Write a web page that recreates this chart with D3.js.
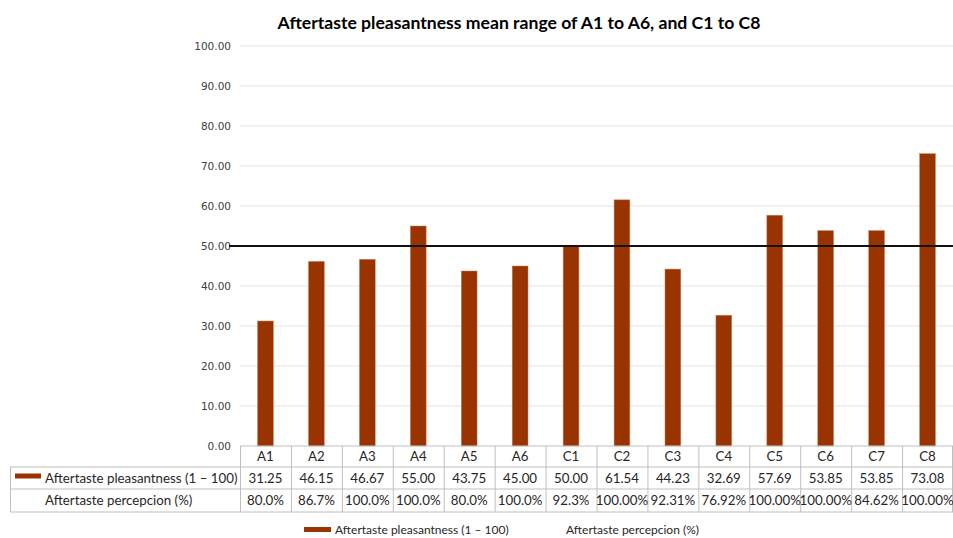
<!DOCTYPE html>
<html>
<head>
<meta charset="utf-8">
<script src="https://cdn.jsdelivr.net/npm/d3@7/dist/d3.min.js"></script>
<style>
  html, body { margin: 0; padding: 0; background: #ffffff; }
  svg { display: block; }
</style>
</head>
<body>
<svg id="chart" width="953" height="538"></svg>
<script>
// Samples and their values
const categories = ["A1", "A2", "A3", "A4", "A5", "A6", "C1", "C2", "C3", "C4", "C5", "C6", "C7", "C8"];
const pleasantness = [31.25, 46.15, 46.67, 55.00, 43.75, 45.00, 50.00, 61.54, 44.23, 32.69, 57.69, 53.85, 53.85, 73.08];
const perception = ["80.0%", "86.7%", "100.0%", "100.0%", "80.0%", "100.0%", "92.3%", "100.00%", "92.31%", "76.92%", "100.00%", "100.00%", "84.62%", "100.00%"];
const yTicks = [0, 10, 20, 30, 40, 50, 60, 70, 80, 90, 100];
const referenceValue = 50;
const seriesNames = ["Aftertaste pleasantness (1 – 100)", "Aftertaste percepcion (%)"];
const titleText = "Aftertaste pleasantness mean range of A1 to A6, and C1 to C8";

const barColor = "#993300";
const textColor = "#262626";
const gridColor = "#e3e3e3";
const tableColor = "#bfbfbf";
const tableFont = "Lato, 'Open Sans', sans-serif";

const svg = d3.select("#chart");

const plot = { left: 240, right: 953, top: 46, bottom: 446 };
const tableLeft = 10;
const rowBounds = [446, 467, 489, 512];

const x = d3.scaleBand().domain(categories).range([plot.left, plot.right]).paddingInner(0.69).paddingOuter(0.345);
const xCol = d3.scaleBand().domain(categories).range([plot.left, plot.right]);
const y = d3.scaleLinear().domain([0, 100]).range([plot.bottom, plot.top]);

// Title
svg.append("text")
  .attr("x", 519).attr("y", 29)
  .attr("text-anchor", "middle")
  .attr("font-family", "Lato, 'Open Sans', sans-serif")
  .attr("font-weight", "bold")
  .attr("font-size", 17.6)
  .attr("fill", "#000")
  .text(titleText);

// Horizontal gridlines
svg.append("g").selectAll("line")
  .data(yTicks.filter(d => d > 0))
  .join("line")
  .attr("x1", plot.left).attr("x2", plot.right)
  .attr("y1", d => y(d)).attr("y2", d => y(d))
  .attr("stroke", gridColor).attr("stroke-width", 1);

// Y axis labels
const yAxis = d3.axisLeft(y).tickValues(yTicks).tickFormat(d3.format(".2f")).tickSize(0).tickPadding(9);
const yg = svg.append("g").attr("transform", `translate(${plot.left},0)`).call(yAxis);
yg.select(".domain").remove();
yg.selectAll("text")
  .attr("font-family", "'DejaVu Sans', Verdana, sans-serif")
  .attr("font-size", 10.5)
  .attr("fill", "#404040");

// Bars
svg.append("g").selectAll("rect")
  .data(categories.map((c, i) => ({ c, v: pleasantness[i] })))
  .join("rect")
  .attr("x", d => x(d.c))
  .attr("width", x.bandwidth())
  .attr("y", d => y(d.v))
  .attr("height", d => y(0) - y(d.v))
  .attr("fill", barColor)
  .attr("stroke", "#c9825f")
  .attr("stroke-width", 0.5);

// Reference line at 50
svg.append("line")
  .attr("x1", 229).attr("x2", plot.right)
  .attr("y1", y(referenceValue)).attr("y2", y(referenceValue))
  .attr("stroke", "#111").attr("stroke-width", 1.8);

// Data table
const table = svg.append("g");
// horizontal rules
table.append("line")
  .attr("x1", plot.left).attr("x2", plot.right)
  .attr("y1", rowBounds[0]).attr("y2", rowBounds[0])
  .attr("stroke", tableColor);
rowBounds.slice(1).forEach(yy => {
  table.append("line")
    .attr("x1", tableLeft).attr("x2", plot.right)
    .attr("y1", yy).attr("y2", yy)
    .attr("stroke", tableColor);
});
// left edge of the table
table.append("line")
  .attr("x1", tableLeft + 0.5).attr("x2", tableLeft + 0.5)
  .attr("y1", rowBounds[1]).attr("y2", rowBounds[3])
  .attr("stroke", tableColor);
// column rules
categories.forEach(c => {
  table.append("line")
    .attr("x1", xCol(c) + 0.5).attr("x2", xCol(c) + 0.5)
    .attr("y1", rowBounds[0]).attr("y2", rowBounds[3])
    .attr("stroke", tableColor);
});
table.append("line")
  .attr("x1", plot.right - 0.5).attr("x2", plot.right - 0.5)
  .attr("y1", rowBounds[0]).attr("y2", rowBounds[3])
  .attr("stroke", tableColor);

const rowMid = i => (rowBounds[i] + rowBounds[i + 1]) / 2 + 4.5;

// category row
table.selectAll("text.cat")
  .data(categories)
  .join("text")
  .attr("class", "cat")
  .attr("x", d => xCol(d) + xCol.bandwidth() / 2)
  .attr("y", rowMid(0))
  .attr("text-anchor", "middle")
  .attr("font-family", tableFont).attr("font-size", 13.3)
  .attr("fill", textColor)
  .text(d => d);

// pleasantness row
table.selectAll("text.val")
  .data(categories.map((c, i) => ({ c, v: pleasantness[i] })))
  .join("text")
  .attr("class", "val")
  .attr("x", d => xCol(d.c) + xCol.bandwidth() / 2)
  .attr("y", rowMid(1))
  .attr("text-anchor", "middle")
  .attr("font-family", tableFont).attr("font-size", 13.3)
  .attr("fill", textColor)
  .text(d => d3.format(".2f")(d.v));

// perception row
table.selectAll("text.pct")
  .data(categories.map((c, i) => ({ c, v: perception[i] })))
  .join("text")
  .attr("class", "pct")
  .attr("x", d => xCol(d.c) + xCol.bandwidth() / 2)
  .attr("y", rowMid(2))
  .attr("text-anchor", "middle")
  .attr("font-family", tableFont).attr("font-size", 13.3)
  .attr("fill", textColor)
  .text(d => d.v);

// row headers
table.append("rect")
  .attr("x", 15).attr("y", rowMid(1) - 9).attr("width", 26).attr("height", 5)
  .attr("fill", barColor);
table.append("text")
  .attr("x", 45).attr("y", rowMid(1))
  .attr("font-family", tableFont).attr("font-size", 13.3)
  .attr("fill", textColor)
  .text(seriesNames[0]);
table.append("text")
  .attr("x", 45).attr("y", rowMid(2))
  .attr("font-family", tableFont).attr("font-size", 13.3)
  .attr("fill", textColor)
  .text(seriesNames[1]);

// Legend
const legend = svg.append("g");
legend.append("rect")
  .attr("x", 304).attr("y", 527).attr("width", 27).attr("height", 5)
  .attr("fill", barColor);
legend.append("text")
  .attr("x", 335).attr("y", 534)
  .attr("font-family", tableFont).attr("font-size", 12)
  .attr("fill", textColor)
  .text(seriesNames[0]);
legend.append("text")
  .attr("x", 566).attr("y", 534)
  .attr("font-family", tableFont).attr("font-size", 12)
  .attr("fill", textColor)
  .text(seriesNames[1]);
</script>
</body>
</html>
